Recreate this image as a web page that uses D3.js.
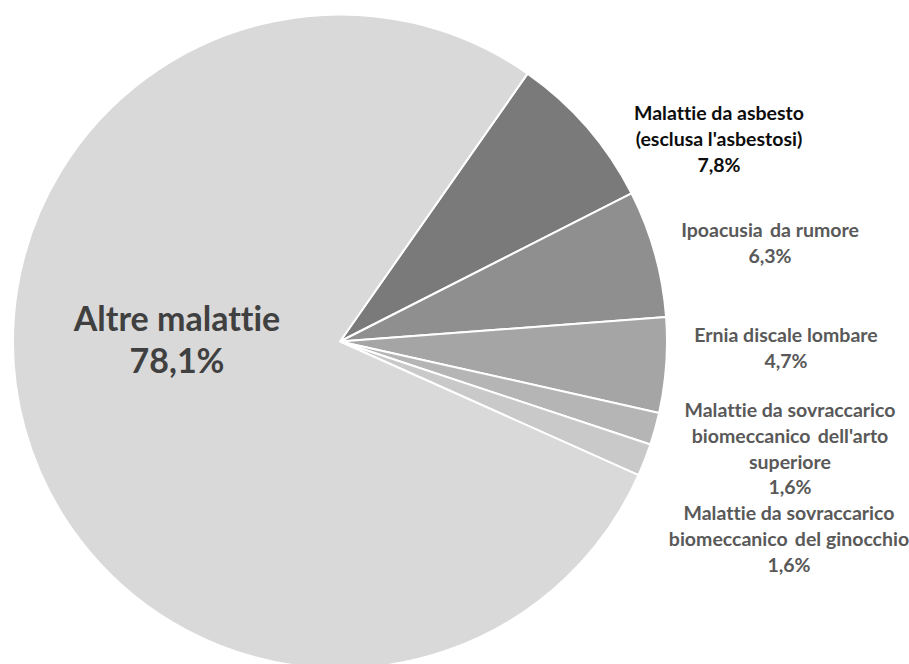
<!DOCTYPE html>
<html>
<head>
<meta charset="utf-8">
<script src="https://cdn.jsdelivr.net/npm/d3@7"></script>
<style>
  body { margin: 0; background: #fff; }
  text { font-family: Lato, "Open Sans", sans-serif; font-weight: bold; white-space: pre; font-variant-ligatures: none; }
</style>
</head>
<body>
<div id="chart"></div>
<script>
// slice order follows the source chart, clockwise from the first slice angle
const categories = [
    'Malattie da asbesto (esclusa l\'asbestosi)',
    'Ipoacusia da rumore',
    'Ernia discale lombare',
    'Malattie da sovraccarico biomeccanico dell\'arto superiore',
    'Malattie da sovraccarico biomeccanico del ginocchio',
    'Altre malattie'
];
const values = [7.8, 6.3, 4.7, 1.6, 1.6, 78.1];
const labelLines = [
    ['Malattie da asbesto', '(esclusa l\'asbestosi)', '7,8%'],
    ['Ipoacusia \u2009da rumore', '6,3%'],
    ['Ernia discale lombare', '4,7%'],
    ['Malattie da sovraccarico', 'biomeccanico \u2009dell\'arto', 'superiore', '1,6%'],
    ['Malattie da sovraccarico', 'biomeccanico \u2009del ginocchio', '1,6%'],
    ['Altre malattie', '78,1%']
];
const colors = ['#7a7a7a', '#8f8f8f', '#a5a5a5', '#b5b5b5', '#c9c9c9', '#d9d9d9'];

const width = 909, height = 664;
const cx = 340, cy = 341.5, radius = 327;
const firstSliceAngle = 35; // degrees

// label block anchors (x centre, first baseline), Excel places these by hand
const labelAnchor = [
    [719, 120], [770, 237], [786, 342], [790, 417], [789, 520], [177, 331]
];
const labelColor = ['#0d0d0d', '#595959', '#595959', '#595959', '#595959', '#404040'];

const svg = d3.select('#chart').append('svg')
    .attr('width', width)
    .attr('height', height);

const pie = d3.pie()
    .sort(null)
    .startAngle(firstSliceAngle * Math.PI / 180)
    .endAngle(firstSliceAngle * Math.PI / 180 + 2 * Math.PI)
    .value(d => d);

const arc = d3.arc()
    .innerRadius(0)
    .outerRadius(radius);

const g = svg.append('g')
    .attr('transform', `translate(${cx},${cy})`);

g.selectAll('path')
    .data(pie(values))
    .enter().append('path')
    .attr('d', arc)
    .style('fill', (d, i) => colors[i])
    .style('stroke', '#fff')
    .style('stroke-width', 2)
    .style('stroke-linejoin', 'round');

const labels = svg.append('g')
    .selectAll('text')
    .data(categories)
    .enter().append('text')
    .attr('text-anchor', 'middle')
    .style('fill', (d, i) => labelColor[i])
    .style('font-size', (d, i) => i === 5 ? '34px' : '19.5px');

labels.each(function(d, i) {
    const lineGap = i === 5 ? 42 : 25.8;
    d3.select(this).selectAll('tspan')
        .data(labelLines[i])
        .enter().append('tspan')
        .attr('x', labelAnchor[i][0])
        .attr('y', (t, j) => labelAnchor[i][1] + j * lineGap)
        .text(t => t);
});
</script>
</body>
</html>
